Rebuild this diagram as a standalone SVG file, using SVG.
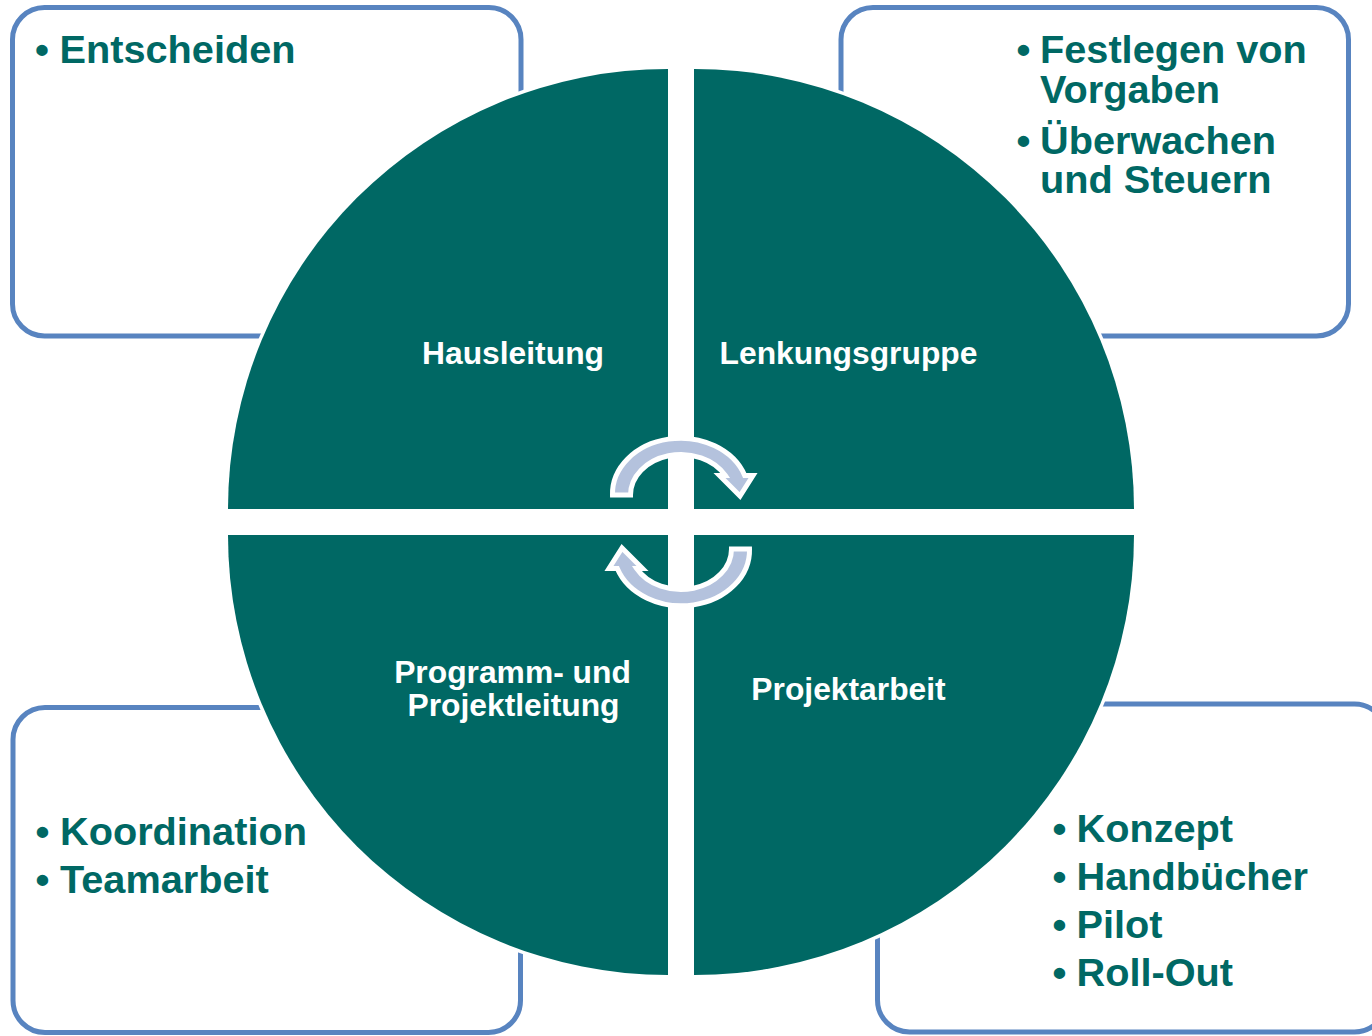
<svg xmlns="http://www.w3.org/2000/svg" width="1372" height="1036" viewBox="0 0 1372 1036">
<style>
.box{fill:#fff;stroke:#5884C0;stroke-width:5}
.q{fill:#006864;stroke:#fff;stroke-width:7;paint-order:stroke}
.arr{fill:#B4C2DD;stroke:#fff;stroke-width:5;stroke-linejoin:miter}
.lbl{font-family:"Liberation Sans",Arial,sans-serif;font-weight:bold;font-size:31.8px;fill:#fff;text-anchor:middle}
.bt{font-family:"Liberation Sans",Arial,sans-serif;font-weight:bold;font-size:39.7px;fill:#006864}
</style>
<rect width="1372" height="1036" fill="#fff"/>
<g id="box-tl"><rect class="box" x="12.5" y="7.5" width="508.5" height="328.5" rx="32"/>
<text class="bt" x="35" y="63.3">•</text><text class="bt" x="59.5" y="63.3">Entscheiden</text></g>
<g id="box-tr"><rect class="box" x="841" y="7.5" width="507.5" height="328.5" rx="32"/>
<text class="bt" x="1016.5" y="63.3">•</text><text class="bt" x="1040" y="63.3">Festlegen von</text>
<text class="bt" x="1040" y="103.3">Vorgaben</text>
<text class="bt" x="1016.5" y="153.5">•</text><text class="bt" x="1040" y="153.5">Überwachen</text>
<text class="bt" x="1040" y="193.3">und Steuern</text></g>
<g id="box-bl"><rect class="box" x="13" y="707.5" width="507.5" height="325" rx="32"/>
<text class="bt" x="35.5" y="845">•</text><text class="bt" x="60" y="845">Koordination</text>
<text class="bt" x="35.5" y="893.3">•</text><text class="bt" x="60" y="893.3">Teamarbeit</text></g>
<g id="box-br"><rect class="box" x="877.5" y="704" width="509" height="328" rx="32"/>
<text class="bt" x="1052.5" y="842.3">•</text><text class="bt" x="1076.5" y="842.3">Konzept</text>
<text class="bt" x="1052.5" y="890">•</text><text class="bt" x="1076.5" y="890">Handbücher</text>
<text class="bt" x="1052.5" y="938">•</text><text class="bt" x="1076.5" y="938">Pilot</text>
<text class="bt" x="1052.5" y="986">•</text><text class="bt" x="1076.5" y="986">Roll-Out</text></g>
<g id="q-hausleitung"><path class="q" d="M668 509 L228 509 A440 440 0 0 1 668 69 Z"/>
<text class="lbl" x="513" y="364">Hausleitung</text></g>
<g id="q-lenkungsgruppe"><path class="q" d="M694 509 L694 69 A440 440 0 0 1 1134 509 Z"/>
<text class="lbl" x="848.5" y="364">Lenkungsgruppe</text></g>
<g id="q-programm"><path class="q" d="M668 535 L668 975 A440 440 0 0 1 228 535 Z"/>
<text class="lbl" x="512.5" y="683">Programm- und</text>
<text class="lbl" x="513.5" y="716">Projektleitung</text></g>
<g id="q-projektarbeit"><path class="q" d="M694 535 L1134 535 A440 440 0 0 1 694 975 Z"/>
<text class="lbl" x="848.5" y="699.5">Projektarbeit</text></g>
<g id="connectors">
<path class="arr" d="M612.5 495 A68 55.5 0 0 1 744.7 475.5 L753 475.5 L740 496 L719.5 475.5 L725.3 475.5 A50.5 40.5 0 0 0 630.5 495 Z"/>
<path class="arr" transform="rotate(180 681 522)" d="M612.5 495 A68 55.5 0 0 1 744.7 475.5 L753 475.5 L740 496 L719.5 475.5 L725.3 475.5 A50.5 40.5 0 0 0 630.5 495 Z"/>
</g>
</svg>
